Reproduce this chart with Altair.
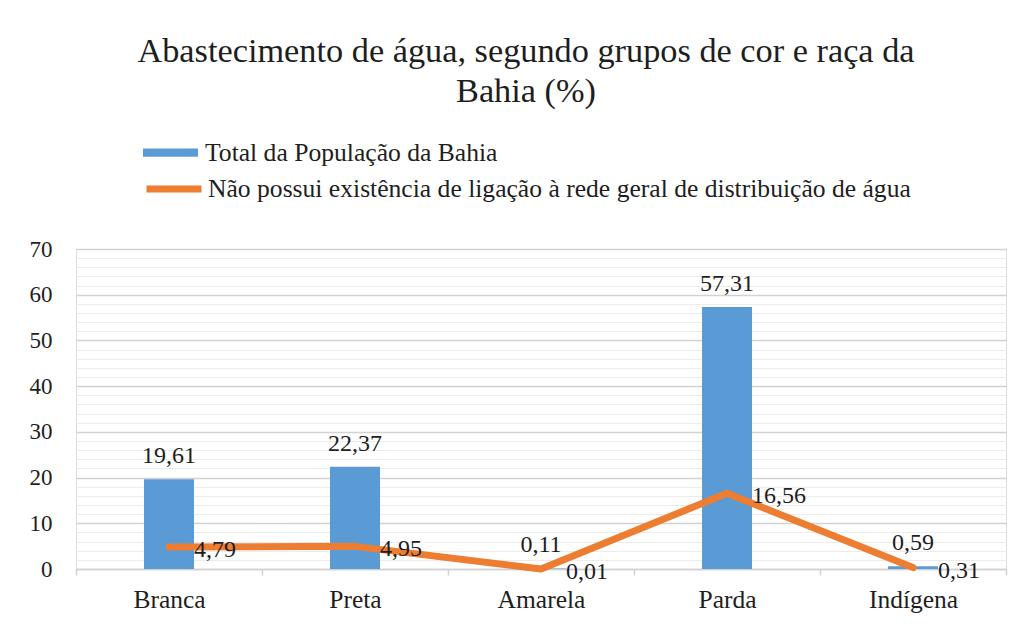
import altair as alt
import pandas as pd

categorias = ["Branca", "Preta", "Amarela", "Parda", "Indígena"]
total_pop = [19.61, 22.37, 0.11, 57.31, 0.59]
sem_ligacao = [4.79, 4.95, 0.01, 16.56, 0.31]

serie_barra = "Total da População da Bahia"
serie_linha = "Não possui existência de ligação à rede geral de distribuição de água"

df_bar = pd.DataFrame({"cat": categorias, "v": total_pop, "s": serie_barra})
df_line = pd.DataFrame({"cat": categorias, "v": sem_ligacao, "s": serie_linha})

FONT = "Liberation Serif"
BLUE = "#5B9BD5"
ORANGE = "#ED7D31"
TXT = "#1e1e1e"

x_enc = alt.X(
    "cat:N", sort=categorias, title=None,
    scale=alt.Scale(paddingInner=0, paddingOuter=0),
    axis=alt.Axis(labelAngle=0, labelFont=FONT, labelFontSize=25.5, labelColor=TXT,
                  labelPadding=12, domainColor="#d0d0d0", domainWidth=1.5,
                  tickBand="extent", tickColor="#d0d0d0", tickSize=6, tickWidth=1.5,
                  grid=False),
)
y_scale = alt.Scale(domain=[0, 70], nice=False)
y_axis = alt.Axis(
    values=list(range(0, 71, 2)),
    tickCount=100,
    format="d",
    labelExpr="datum.value % 10 === 0 ? datum.label : ''",
    labelOverlap=False,
    labelFont=FONT, labelFontSize=23, labelColor=TXT, labelPadding=24,
    ticks=False, domain=False, grid=True,
    gridColor={"condition": {"test": "datum.value % 10 === 0", "value": "#d2d2d2"}, "value": "#ececec"},
    gridWidth={"condition": {"test": "datum.value % 10 === 0", "value": 1.6}, "value": 1.2},
    title=None,
)

bars = alt.Chart(df_bar).mark_bar(size=50).encode(
    x=x_enc,
    y=alt.Y("v:Q", scale=y_scale, axis=y_axis),
    fill=alt.Fill("s:N", scale=alt.Scale(domain=[serie_barra], range=[BLUE]),
                  legend=alt.Legend(title=None, orient="none", legendX=67, legendY=-124,
                                    symbolType="M-1,-0.15H1V0.15H-1Z", symbolSize=3025,
                                    symbolStrokeWidth=0, labelFont=FONT, labelFontSize=25.6,
                                    labelColor=TXT, labelOffset=7, labelLimit=900)),
)

bar_labels = alt.Chart(df_bar).transform_calculate(
    lbl="replace(format(datum.v, '.2f'), '.', ',')"
).mark_text(font=FONT, fontSize=24, color=TXT, baseline="alphabetic", dy=-16).encode(
    x=alt.X("cat:N", sort=categorias),
    y=alt.Y("v:Q", scale=y_scale),
    text="lbl:N",
)

line = alt.Chart(df_line).mark_line(strokeWidth=7, strokeCap="round", strokeJoin="round").encode(
    x=alt.X("cat:N", sort=categorias),
    y=alt.Y("v:Q", scale=y_scale),
    stroke=alt.Stroke("s:N", scale=alt.Scale(domain=[serie_linha], range=[ORANGE]),
                      legend=alt.Legend(title=None, orient="none", legendX=67, legendY=-91,
                                        symbolType="M-1,0H1", symbolSize=3025,
                                        symbolStrokeWidth=7, labelFont=FONT, labelFontSize=25.6,
                                        labelColor=TXT, labelOffset=3, labelLimit=900)),
)

line_labels = alt.Chart(df_line).transform_calculate(
    lbl="replace(format(datum.v, '.2f'), '.', ',')"
).mark_text(font=FONT, fontSize=24, color=TXT, align="left", baseline="middle", dx=25, dy=3).encode(
    x=alt.X("cat:N", sort=categorias),
    y=alt.Y("v:Q", scale=y_scale),
    text="lbl:N",
)

chart = alt.layer(bars, bar_labels, line, line_labels).resolve_scale(
    fill="independent", stroke="independent"
).properties(
    width=930, height=320,
    autosize=alt.AutoSizeParams(type="none"),
    padding={"left": 68, "top": 241, "right": 14, "bottom": 51},
    title=alt.TitleParams(
        text=["Abastecimento de água, segundo grupos de cor e raça da", "Bahia (%)"],
        font=FONT, fontSize=34.3, fontWeight="normal", color=TXT,
        anchor="middle", dx=-15, offset=16, lineHeight=40,
    ),
).configure_view(stroke=None).configure(background="white")

chart.save("out.html", embed_options={"renderer": "svg", "actions": False})
